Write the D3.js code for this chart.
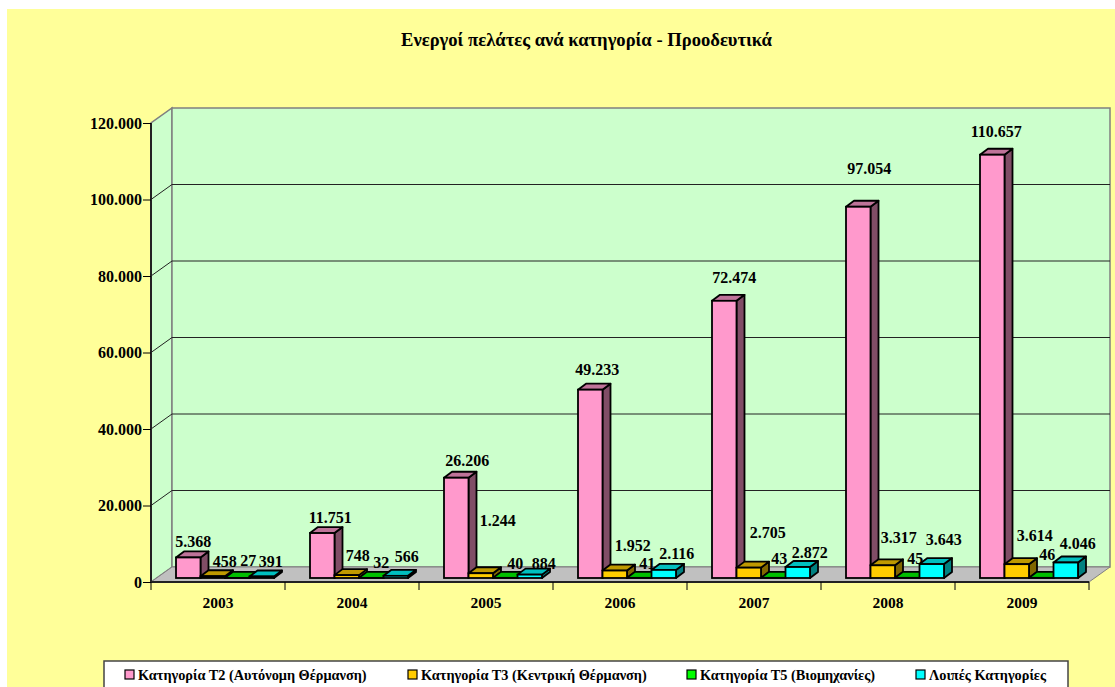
<!DOCTYPE html>
<html>
<head>
<meta charset="utf-8">
<script src="https://cdnjs.cloudflare.com/ajax/libs/d3/7.8.5/d3.min.js"></script>
<style>
  html, body { margin: 0; padding: 0; background: #fff; overflow: hidden; }
  text { font-family: "Liberation Serif", "Times New Roman", serif; font-weight: bold; fill: #000; }
</style>
</head>
<body>
<div id="chart"></div>
<script>
var years = ['2003', '2004', '2005', '2006', '2007', '2008', '2009'];
var seriesNames = [
  'Κατηγορία Τ2 (Αυτόνομη Θέρμανση)',
  'Κατηγορία Τ3 (Κεντρική Θέρμανση)',
  'Κατηγορία Τ5 (Βιομηχανίες)',
  'Λοιπές Κατηγορίες'
];
var t2Values = [5368, 11751, 26206, 49233, 72474, 97054, 110657];
var t3Values = [458, 748, 1244, 1952, 2705, 3317, 3614];
var t5Values = [27, 32, 40, 41, 43, 45, 46];
var otherValues = [391, 566, 884, 2116, 2872, 3643, 4046];
var yTicks = [0, 20000, 40000, 60000, 80000, 100000, 120000];
var titleText = 'Ενεργοί πελάτες ανά κατηγορία - Προοδευτικά';

var allValues = [t2Values, t3Values, t5Values, otherValues];
var colors = ['#FF99CC', '#FFCC00', '#00FF00', '#00FFFF'];
var topColors = ['#BF7399', '#BF9900', '#00BF00', '#00BFBF'];
var sideColors = ['#804D66', '#806600', '#008000', '#008080'];

// labels were dragged by hand in the original, so each one has its own nudge
var labelNudgeX = [
  [1, 4, 7, 3, 6, 7, 0],
  [8, 7, 13, 14, 15, 12, 14],
  [7, 6, 6, 4, 2, 4, 2],
  [5, 7, 10, 9, 8, 8, 8]
];
var labelNudgeY = [
  [0, 0, -2, -5, -8, -23, -8],
  [1, -4, -37, -10, -20, -12, -13],
  [-2, 0, 1, 1, -4, -4, -8],
  [0, -4, 4, -1, 1, -9, -4]
];

var left = 151, right = 1089, bottom = 582, top_ = 123;
var wallDx = 21, wallDy = 15;
var barDepthX = 8, barDepthY = 6, barLift = 4;

var svg = d3.select('#chart').append('svg')
  .attr('width', 1115)
  .attr('height', 687)
  .style('display', 'block');

svg.append('rect').attr('x', 7).attr('y', 9).attr('width', 1108).attr('height', 678).attr('fill', '#FFFF99');

var x = d3.scaleBand().domain(years).range([left, right]);
var xInner = d3.scaleBand().domain(d3.range(4)).range([25, 123]);
var y = d3.scaleLinear().domain([0, 120000]).range([bottom, top_]);
var fmt = d3.formatLocale({ decimal: ',', thousands: '.', grouping: [3], currency: ['', ''] }).format(',d');

function poly(pts) {
  return d3.line()(pts) + 'Z';
}

// walls and floor
svg.append('path')
  .attr('d', poly([[left, bottom], [left + wallDx, bottom - wallDy], [left + wallDx, top_ - wallDy], [left, top_]]))
  .attr('fill', '#CCFFCC').attr('stroke', '#808080').attr('stroke-width', 1.5);
svg.append('path')
  .attr('d', poly([[left + wallDx, bottom - wallDy], [right + wallDx, bottom - wallDy], [right + wallDx, top_ - wallDy], [left + wallDx, top_ - wallDy]]))
  .attr('fill', '#CCFFCC').attr('stroke', '#808080').attr('stroke-width', 1.5);
svg.append('path')
  .attr('d', poly([[left, bottom], [left + wallDx, bottom - wallDy], [right + wallDx, bottom - wallDy], [right, bottom]]))
  .attr('fill', '#C0C0C0').attr('stroke', '#808080').attr('stroke-width', 1);

// gridlines, skip top one which is the wall edge
var grid = svg.append('g');
yTicks.slice(1, -1).forEach(function(t) {
  grid.append('path')
    .attr('d', d3.line()([[left, y(t)], [left + wallDx, y(t) - wallDy], [right + wallDx, y(t) - wallDy]]))
    .attr('fill', 'none').attr('stroke', '#222').attr('stroke-width', 1);
});

// bars
allValues.forEach(function(values, s) {
  var g = svg.append('g');
  values.forEach(function(v, i) {
    var x0 = x(years[i]) + xInner(s);
    var x1 = x0 + xInner.bandwidth();
    var y0 = y(0) - barLift;
    var y1 = y(v) - barLift;
    g.append('path')
      .attr('d', poly([[x1, y0], [x1 + barDepthX, y0 - barDepthY], [x1 + barDepthX, y1 - barDepthY], [x1, y1]]))
      .attr('fill', sideColors[s]).attr('stroke', '#000').attr('stroke-width', 1.8).attr('stroke-linejoin', 'round');
    g.append('path')
      .attr('d', poly([[x0, y1], [x1, y1], [x1 + barDepthX, y1 - barDepthY], [x0 + barDepthX, y1 - barDepthY]]))
      .attr('fill', topColors[s]).attr('stroke', '#000').attr('stroke-width', 1.8).attr('stroke-linejoin', 'round');
    g.append('rect')
      .attr('x', x0).attr('y', y1).attr('width', x1 - x0).attr('height', y0 - y1)
      .attr('fill', colors[s]).attr('stroke', '#000').attr('stroke-width', 1.8);
  });
});

// axes
var yAxis = d3.axisLeft(y).tickValues(yTicks).tickSize(8).tickPadding(1).tickFormat(fmt);
var yG = svg.append('g').attr('transform', 'translate(' + left + ',0)').call(yAxis);
var xAxis = d3.axisBottom(x).tickSize(0).tickPadding(15);
var xG = svg.append('g').attr('transform', 'translate(0,' + bottom + ')').call(xAxis);
x.domain().concat(['end']).forEach(function(d, i) {
  var px = left + i * x.bandwidth();
  xG.append('line').attr('x1', px).attr('x2', px).attr('y1', 0).attr('y2', 8).attr('stroke', '#000').attr('stroke-width', 1);
});
[yG, xG].forEach(function(a) {
  a.selectAll('.domain').attr('stroke', '#222').attr('stroke-width', 2);
  a.selectAll('.tick line').attr('stroke', '#000');
});
yG.selectAll('text').style('font-size', '16px');
xG.selectAll('text').style('font-size', '15.5px');
yG.select('.domain').attr('d', 'M0,' + top_ + 'V' + bottom);
xG.select('.domain').attr('d', 'M' + left + ',0H' + right);

// data labels
allValues.forEach(function(values, s) {
  svg.append('g').selectAll('text')
    .data(values)
    .enter()
    .append('text')
    .attr('x', function(d, i) { return x(years[i]) + xInner(s) + xInner.bandwidth() / 2 + barDepthX / 2 + labelNudgeX[s][i]; })
    .attr('y', function(d, i) { return y(d) - barLift - 10 + labelNudgeY[s][i]; })
    .attr('text-anchor', 'middle')
    .style('font-size', '16px')
    .text(function(d) { return fmt(d); });
});

// title
svg.append('text').attr('x', 586.5).attr('y', 46).attr('text-anchor', 'middle').style('font-size', '18.6px').text(titleText);

// legend
svg.append('rect').attr('x', 104).attr('y', 661).attr('width', 964).attr('height', 30)
  .attr('fill', '#fff').attr('stroke', '#444').attr('stroke-width', 1.5);
var legendX = [125, 408, 687, 916];
seriesNames.forEach(function(name, s) {
  svg.append('rect').attr('x', legendX[s]).attr('y', 670).attr('width', 9).attr('height', 9)
    .attr('fill', colors[s]).attr('stroke', '#000').attr('stroke-width', 1.2);
  svg.append('text').attr('x', legendX[s] + 13).attr('y', 680).style('font-size', '14.3px').text(name);
});
</script>
</body>
</html>
